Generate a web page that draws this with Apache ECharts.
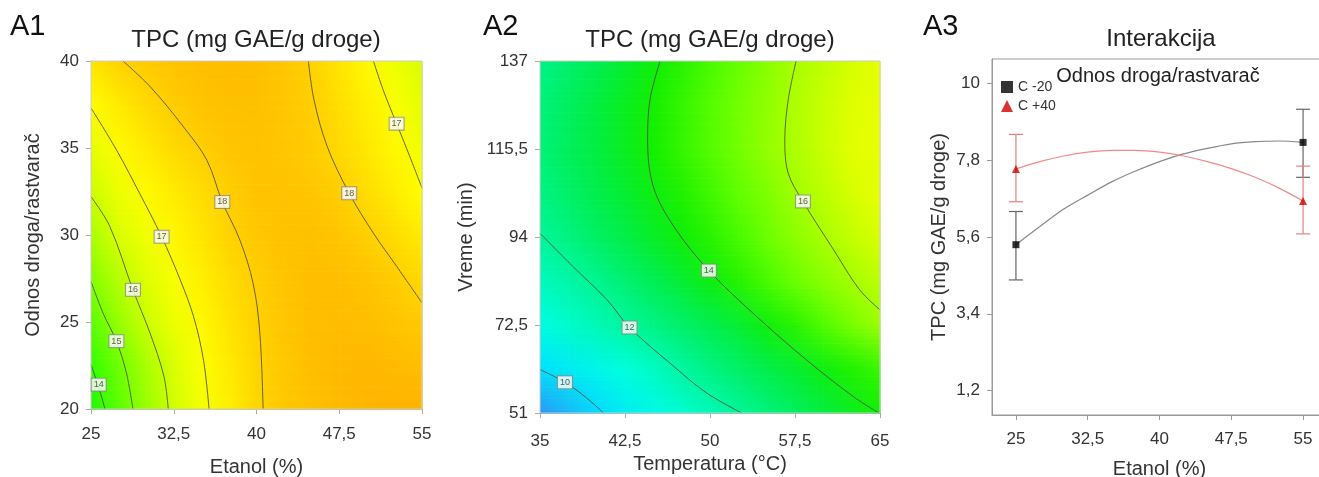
<!DOCTYPE html>
<html>
<head>
<meta charset="utf-8">
<script src="https://cdn.jsdelivr.net/npm/echarts@6/dist/echarts.min.js"></script>
<style>
  html, body { margin: 0; padding: 0; background: #fff; }
  #chart { width: 1319px; height: 477px; }
</style>
</head>
<body>
<div id="chart"></div>
<script>
// ---- A1: Etanol (%) x Odnos droga/rastvarač, TPC values
const a1X = [25, 27.5, 30, 32.5, 35, 37.5, 40, 42.5, 45, 47.5, 50, 52.5, 55];
const a1Y = [20, 22.5, 25, 27.5, 30, 32.5, 35, 37.5, 40];
const a1Z = [
    [13.6, 14.5, 15.35, 16.15, 16.8, 17.35, 17.88, 18.2, 18.4, 18.55, 18.65, 18.7, 18.7],
    [14.0, 14.75, 15.55, 16.3, 16.95, 17.45, 17.92, 18.22, 18.45, 18.58, 18.62, 18.55, 18.45],
    [14.5, 15.3, 16.05, 16.65, 17.15, 17.6, 17.97, 18.25, 18.45, 18.5, 18.45, 18.3, 18.15],
    [15.05, 15.75, 16.4, 16.9, 17.35, 17.75, 18.05, 18.3, 18.45, 18.45, 18.3, 18.1, 17.8],
    [15.55, 16.3, 16.75, 17.2, 17.55, 17.95, 18.2, 18.35, 18.4, 18.25, 18.03, 17.75, 17.4],
    [16.05, 16.65, 17.1, 17.45, 17.75, 18.05, 18.3, 18.35, 18.25, 18.05, 17.75, 17.4, 17.0],
    [16.55, 17.1, 17.45, 17.8, 18.05, 18.25, 18.35, 18.25, 18.1, 17.8, 17.5, 17.15, 16.75],
    [17.05, 17.45, 17.8, 18.1, 18.3, 18.4, 18.4, 18.25, 18.05, 17.7, 17.35, 16.9, 16.5],
    [17.55, 17.95, 18.15, 18.3, 18.45, 18.5, 18.45, 18.25, 17.95, 17.55, 17.1, 16.7, 16.3]
];
// contour lines
const a1Lines = [
    [[25, 22.55], [25.67, 21.3], [26.27, 20]],                                                   // 14
    [[25, 27.33], [26.1, 25.5], [27.3, 23.9], [28.2, 22.1], [28.8, 20]],                          // 15
    [[25, 32.2], [26.7, 30.5], [28.8, 26.85], [30.35, 24.36], [31.6, 21.9], [32.0, 20]],          // 16
    [[25, 37.3], [27.3, 34.9], [29.4, 32.4], [31.4, 29.9], [33.1, 27.4], [34.3, 25.3], [35.2, 22.8], [35.7, 20]], // 17
    [[27.9, 40], [30.4, 38.5], [33.4, 36.2], [35.5, 34.3], [36.9, 31.9], [38.5, 29.7], [39.7, 27.2], [40.3, 24.4], [40.6, 20]], // 18
    [[44.7, 40], [45.2, 37.8], [46.4, 35.1], [48.4, 32.4], [50.6, 30.1], [52.7, 28.2], [55, 26.1]], // 18
    [[50.6, 40], [51.5, 38.3], [52.7, 36.4], [53.9, 34.5], [55, 32.7]]                             // 17
];
const a1Labels = [[25.7, 21.4, 14], [27.3, 23.9, 15], [28.8, 26.85, 16], [31.4, 29.9, 17],
    [36.9, 31.9, 18], [48.4, 32.4, 18], [52.7, 36.4, 17]];

// ---- A2: Temperatura (°C) x Vreme (min)
const a2X = [35, 37.5, 40, 42.5, 45, 47.5, 50, 52.5, 55, 57.5, 60, 62.5, 65];
const a2Y = [51, 61.75, 72.5, 83.25, 94, 104.75, 115.5, 126.25, 137];
const a2Z = [
    [9.1, 9.5, 9.9, 10.4, 10.8, 11.2, 11.6, 12.0, 12.4, 12.8, 13.2, 13.6, 14.0],
    [10.0, 10.35, 10.7, 11.05, 11.4, 11.9, 12.3, 12.7, 13.05, 13.4, 13.8, 14.2, 14.5],
    [10.9, 11.3, 11.6, 11.95, 12.3, 12.65, 13.0, 13.35, 13.85, 14.3, 14.8, 15.3, 15.8],
    [11.5, 11.8, 12.15, 12.55, 12.95, 13.35, 13.8, 14.25, 14.7, 15.15, 15.55, 15.95, 16.3],
    [12.0, 12.35, 12.75, 13.1, 13.5, 13.9, 14.3, 14.7, 15.15, 15.6, 16.0, 16.4, 16.75],
    [12.3, 12.7, 13.05, 13.4, 13.8, 14.2, 14.6, 15.0, 15.4, 15.9, 16.3, 16.7, 17.05],
    [12.45, 12.85, 13.2, 13.6, 14.05, 14.45, 14.85, 15.25, 15.7, 16.1, 16.5, 16.9, 17.25],
    [12.4, 12.8, 13.2, 13.6, 14.05, 14.45, 14.85, 15.25, 15.65, 16.1, 16.5, 16.85, 17.2],
    [12.25, 12.65, 13.0, 13.4, 13.9, 14.3, 14.7, 15.1, 15.55, 15.98, 16.35, 16.7, 17.05]
];
const a2Lines = [
    [[35, 61.6], [37.2, 58.5], [39.1, 54.7], [40.6, 51]],                                                     // 10
    [[35, 94.9], [37.9, 86.8], [40.9, 78.7], [42.9, 71.9], [46.8, 62.4], [49.7, 55.9], [52.8, 51]],          // 12
    [[45.6, 137], [44.7, 127.5], [44.5, 117.7], [45.0, 106.3], [46.8, 96.6], [49.9, 85.8], [54.1, 74.6], [58.5, 64], [62.6, 55.1], [64.9, 51]], // 14
    [[57.6, 137], [56.9, 127.5], [56.6, 117.7], [56.9, 109.6], [58.2, 102.7], [60.9, 90.9], [63.2, 81.1], [65, 76.2]] // 16
];
const a2Labels = [[37.2, 58.5, 10], [42.9, 71.9, 12], [49.9, 85.8, 14], [58.2, 102.7, 16]];

// ---- A3: interakcija
const a3XTicks = [25, 32.5, 40, 47.5, 55];
const a3YTicks = [1.2, 3.4, 5.6, 7.8, 10];
const lowCurve = [[25, 5.38], [27.5, 5.9], [30, 6.4], [32.5, 6.8], [35, 7.18], [37.5, 7.49], [40, 7.76],
    [42.5, 7.98], [45, 8.14], [47.5, 8.27], [50, 8.33], [52.5, 8.35], [55, 8.31]];
const highCurve = [[25, 7.55], [27.5, 7.76], [30, 7.92], [32.5, 8.03], [35, 8.08], [37.5, 8.08], [40, 8.03],
    [42.5, 7.92], [45, 7.76], [47.5, 7.56], [50, 7.31], [52.5, 7.0], [55, 6.63]];
const lowPoints = [[25, 5.38], [55, 8.31]];
const highPoints = [[25, 7.55], [55, 6.63]];
const lowErr = [[25, 4.37, 6.33], [55, 7.31, 9.26]];
const highErr = [[25, 6.61, 8.54], [55, 5.69, 7.63]];

const FONT = 'Liberation Sans, Arial, sans-serif';
const commaFmt = v => String(v).replace('.', ',');

function gridData(xs, ys, zs) {
    const out = [];
    ys.forEach((y, j) => xs.forEach((x, i) => out.push([x, y, zs[j][i]])));
    return out;
}

// each node paints the quad up-right of it, shading between the corner colours
function heatRender(nCols, nRows, strips) {
    return function (params, api) {
        const idx = params.dataIndexInside;
        const i = idx % nCols, j = Math.floor(idx / nCols);
        if (i === nCols - 1 || j === nRows - 1) return null;
        const iR = idx + 1, iU = idx + nCols, iRU = idx + nCols + 1;
        const p0 = api.coord([api.value(0, idx), api.value(1, idx)]);
        const p1 = api.coord([api.value(0, iRU), api.value(1, iRU)]);
        const c00 = api.visual('color', idx), c10 = api.visual('color', iR);
        const c01 = api.visual('color', iU), c11 = api.visual('color', iRU);
        const h = (p0[1] - p1[1]) / strips;
        const children = [];
        for (let k = 0; k < strips; k++) {
            const t = (k + 0.5) / strips;
            const left = echarts.color.lerp(t, [c00, c01]);
            const right = echarts.color.lerp(t, [c10, c11]);
            children.push({
                type: 'rect',
                shape: { x: p0[0], y: p0[1] - (k + 1) * h, width: p1[0] - p0[0] + 0.6, height: h + 0.6 },
                style: {
                    fill: { type: 'linear', x: 0, y: 0, x2: 1, y2: 0,
                        colorStops: [{ offset: 0, color: left }, { offset: 1, color: right }] }
                }
            });
        }
        return { type: 'group', children: children };
    };
}

function errRender(color) {
    return function (params, api) {
        const top = api.coord([api.value(0), api.value(2)]);
        const bot = api.coord([api.value(0), api.value(1)]);
        const w = 7;
        const st = { stroke: color, lineWidth: 1.2 };
        return {
            type: 'group',
            children: [
                { type: 'line', shape: { x1: top[0], y1: top[1], x2: bot[0], y2: bot[1] }, style: st },
                { type: 'line', shape: { x1: top[0] - w, y1: top[1], x2: top[0] + w, y2: top[1] }, style: st },
                { type: 'line', shape: { x1: bot[0] - w, y1: bot[1], x2: bot[0] + w, y2: bot[1] }, style: st }
            ]
        };
    };
}

function axisX(idx, min, max, interval, name, gap, margin, extra) {
    return Object.assign({
        type: 'value', gridIndex: idx, min: min, max: max, interval: interval,
        name: name, nameLocation: 'middle', nameGap: gap,
        nameTextStyle: { fontSize: 20, color: '#333', fontFamily: FONT },
        splitLine: { show: false },
        axisLine: { show: true, lineStyle: { color: '#aaa' } },
        axisTick: { show: true, inside: false, length: 5, lineStyle: { color: '#aaa' } },
        axisLabel: { fontSize: 17, color: '#333', margin: margin, formatter: commaFmt, fontFamily: FONT }
    }, extra || {});
}

function axisY(idx, min, max, interval, name, gap, extra) {
    return Object.assign({
        type: 'value', gridIndex: idx, min: min, max: max, interval: interval,
        name: name, nameLocation: 'middle', nameGap: gap,
        nameTextStyle: { fontSize: 20, color: '#333', fontFamily: FONT },
        splitLine: { show: false },
        axisLine: { show: true, lineStyle: { color: '#aaa' } },
        axisTick: { show: true, inside: false, length: 5, lineStyle: { color: '#aaa' } },
        axisLabel: { fontSize: 17, color: '#333', margin: 12, formatter: commaFmt, fontFamily: FONT }
    }, extra || {});
}

function contourSeries(lines, axis) {
    return lines.map(pts => ({
        type: 'line', xAxisIndex: axis, yAxisIndex: axis, data: pts,
        smooth: 0.35, symbol: 'none', silent: true, z: 3,
        lineStyle: { color: '#4d4d40', width: 1, opacity: 0.85 }
    }));
}

function labelSeries(labels, axis) {
    return {
        type: 'scatter', xAxisIndex: axis, yAxisIndex: axis, data: labels,
        symbol: 'circle', symbolSize: 2, itemStyle: { color: 'rgba(0,0,0,0)' }, silent: true, z: 5,
        label: {
            show: true, position: 'inside', formatter: p => p.value[2],
            fontSize: 9, color: '#333', fontFamily: FONT,
            backgroundColor: '#fff', borderColor: '#888', borderWidth: 1, padding: [2, 2, 1, 2]
        }
    };
}

var myChart = echarts.init(document.getElementById('chart'));

var option = {
    animation: false,
    textStyle: { fontFamily: FONT },
    grid: [
        { left: 91, top: 61, width: 331, height: 348, show: true, borderColor: '#ccc', backgroundColor: 'transparent', z: 4, outerBoundsMode: 'none' },
        { left: 540, top: 61, width: 340, height: 352, show: true, borderColor: '#ccc', backgroundColor: 'transparent', z: 4, outerBoundsMode: 'none' },
        { left: 992, top: 59, width: 335, height: 356, show: true, borderColor: '#999', backgroundColor: 'transparent', z: 4, outerBoundsMode: 'none' }
    ],
    xAxis: [
        axisX(0, 25, 55, 7.5, 'Etanol (%)', 48, 17),
        axisX(1, 35, 65, 7.5, 'Temperatura (°C)', 36, 20),
        axisX(2, 22.5, 57.5, 7.5, 'Etanol (%)', 44, 16, {
            interval: null,
            axisLine: { show: true, lineStyle: { color: '#999' } },
            axisTick: { show: true, length: 5, lineStyle: { color: '#999' }, customValues: a3XTicks },
            axisLabel: { fontSize: 17, color: '#333', margin: 16, formatter: commaFmt, fontFamily: FONT, customValues: a3XTicks }
        })
    ],
    yAxis: [
        axisY(0, 20, 40, 5, 'Odnos droga/rastvarač', 48),
        axisY(1, 51, 137, 21.5, 'Vreme (min)', 64),
        axisY(2, 0.5, 10.7, 2.2, 'TPC (mg GAE/g droge)', 43, {
            interval: null,
            axisLine: { show: true, lineStyle: { color: '#999' } },
            axisTick: { show: true, length: 5, lineStyle: { color: '#999' }, customValues: a3YTicks },
            axisLabel: { fontSize: 17, color: '#333', margin: 12, formatter: commaFmt, fontFamily: FONT, customValues: a3YTicks }
        })
    ],
    visualMap: [
        {
            type: 'continuous', show: false, seriesIndex: 0, dimension: 2, min: 13, max: 19,
            inRange: { color: ['#00f000', '#33ff00', '#80ff00', '#c8ff00', '#ffff00', '#ffd000', '#ffa800'] }
        },
        {
            type: 'continuous', show: false, seriesIndex: 1, dimension: 2, min: 9, max: 17,
            inRange: { color: ['#2f8ff0', '#00e0ff', '#00ffe0', '#00f59a', '#00ee50', '#10ee00', '#60ff00', '#a8ff00', '#e8ff00'] }
        }
    ],
    legend: {
        left: 1001, top: 80, orient: 'vertical', itemWidth: 12, itemHeight: 12, itemGap: 5, padding: 0,
        textStyle: { fontSize: 14, color: '#333', fontFamily: FONT },
        data: [{ name: 'C -20', icon: 'rect' }, { name: 'C +40', icon: 'triangle' }]
    },
    graphic: [
        { type: 'text', x: 10, y: 27, style: { text: 'A1', fontSize: 29, fontFamily: FONT, fill: '#111', verticalAlign: 'middle' } },
        { type: 'text', x: 483, y: 27, style: { text: 'A2', fontSize: 29, fontFamily: FONT, fill: '#111', verticalAlign: 'middle' } },
        { type: 'text', x: 923, y: 27, style: { text: 'A3', fontSize: 29, fontFamily: FONT, fill: '#111', verticalAlign: 'middle' } },
        { type: 'text', x: 256, y: 40, style: { text: 'TPC (mg GAE/g droge)', fontSize: 24, fontFamily: FONT, fill: '#222', align: 'center', verticalAlign: 'middle' } },
        { type: 'text', x: 710, y: 40, style: { text: 'TPC (mg GAE/g droge)', fontSize: 24, fontFamily: FONT, fill: '#222', align: 'center', verticalAlign: 'middle' } },
        { type: 'text', x: 1161, y: 39, style: { text: 'Interakcija', fontSize: 24, fontFamily: FONT, fill: '#222', align: 'center', verticalAlign: 'middle' } },
        { type: 'text', x: 1158, y: 76, style: { text: 'Odnos droga/rastvarač', fontSize: 20, fontFamily: FONT, fill: '#222', align: 'center', verticalAlign: 'middle' } }
    ],
    series: [
        {
            type: 'custom', xAxisIndex: 0, yAxisIndex: 0, z: 1, silent: true,
            renderItem: heatRender(a1X.length, a1Y.length, 12), data: gridData(a1X, a1Y, a1Z)
        },
        {
            type: 'custom', xAxisIndex: 1, yAxisIndex: 1, z: 1, silent: true,
            renderItem: heatRender(a2X.length, a2Y.length, 12), data: gridData(a2X, a2Y, a2Z)
        },
        ...contourSeries(a1Lines, 0),
        ...contourSeries(a2Lines, 1),
        labelSeries(a1Labels, 0),
        labelSeries(a2Labels, 1),
        {
            type: 'line', xAxisIndex: 2, yAxisIndex: 2, data: lowCurve, smooth: 0.3, symbol: 'none',
            lineStyle: { color: '#888', width: 1.2 }, silent: true
        },
        {
            type: 'line', xAxisIndex: 2, yAxisIndex: 2, data: highCurve, smooth: 0.3, symbol: 'none',
            lineStyle: { color: '#f08a8a', width: 1.2 }, silent: true
        },
        {
            type: 'custom', xAxisIndex: 2, yAxisIndex: 2, renderItem: errRender('#666'), data: lowErr, z: 3
        },
        {
            type: 'custom', xAxisIndex: 2, yAxisIndex: 2, renderItem: errRender('#e88080'), data: highErr, z: 3
        },
        {
            name: 'C -20', type: 'scatter', xAxisIndex: 2, yAxisIndex: 2, data: lowPoints,
            symbol: 'rect', symbolSize: 7, itemStyle: { color: '#000' }, z: 6
        },
        {
            name: 'C +40', type: 'scatter', xAxisIndex: 2, yAxisIndex: 2, data: highPoints,
            symbol: 'triangle', symbolSize: 8, itemStyle: { color: '#d00000' }, z: 6
        }
    ]
};

myChart.setOption(option);
</script>
</body>
</html>
